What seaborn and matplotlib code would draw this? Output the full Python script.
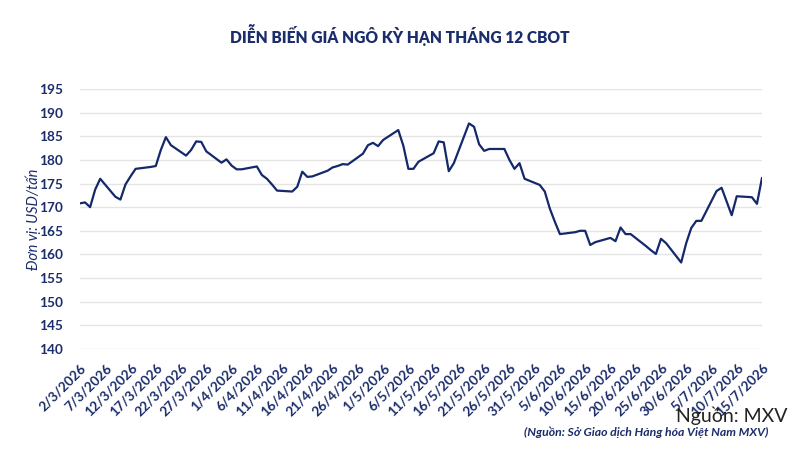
import pandas as pd
import numpy as np
import matplotlib
matplotlib.use('Agg')
import matplotlib.pyplot as plt
import seaborn as sns

# Du lieu doc tu bieu do (ngay giao dich, USD/tan)
dates = pd.bdate_range('2026-03-02', '2026-07-15')
prices = [
    170.8, 171.0, 170.0, 173.7, 176.0,
    172.2, 171.6, 174.8, 176.5, 178.1,
    178.5, 178.7, 182.1, 184.8, 183.1,
    180.9, 182.1, 183.9, 183.8, 181.8,
    179.4, 180.1, 178.8, 178.0, 178.0,
    178.6, 176.8, 176.0, 174.8, 173.5,
    173.3, 174.3, 177.5, 176.4, 176.5,
    177.7, 178.4, 178.7, 179.1, 179.0,
    181.3, 183.1, 183.6, 182.9, 184.2,
    186.3, 183.0, 178.1, 178.1, 179.6,
    181.4, 183.9, 183.7, 177.6, 179.3,
    187.7, 187.0, 183.3, 181.9, 182.3,
    182.3, 180.0, 178.1, 179.3, 176.0,
    174.7, 173.3, 169.7, 166.9, 164.3,
    164.7, 165.0, 165.0, 162.0, 162.6,
    163.5, 162.8, 165.7, 164.3, 164.3,
    161.8, 160.9, 160.1, 163.3, 162.4,
    158.3, 162.4, 165.6, 167.1, 167.1,
    173.4, 174.1, 171.2, 168.3, 172.3,
    172.1, 170.7, 176.2,
]
tick_dates = pd.date_range('2026-03-02', '2026-07-15', freq='5D')
tick_labels = [f"{d.day}/{d.month}/{d.year}" for d in tick_dates]
y_ticks = list(range(140, 200, 5))

title = "DIỄN BIẾN GIÁ NGÔ KỲ HẠN THÁNG 12 CBOT"
ylabel = "Đơn vị: USD/tấn"
source1 = "Nguồn: MXV"
source2 = "(Nguồn: Sở Giao dịch Hàng hóa Việt Nam MXV)"

df = pd.DataFrame({'date': dates, 'price': prices})

navy = '#1b2d6b'
sns.set_theme(style="white")
plt.rcParams['font.family'] = ['Lato', 'DejaVu Sans']

fig = plt.figure(figsize=(8, 4.5), dpi=100)
ax = fig.add_axes([0.1, 0.2244, 0.8525, 0.578])
sns.lineplot(data=df, x='date', y='price', ax=ax, color='#14286b', linewidth=1.6)

ax.set_ylim(140, 195)
ax.set_yticks(y_ticks)
ax.set_xlim(dates[0], dates[-1])
ax.set_xticks(tick_dates)
ax.set_xticklabels(tick_labels, rotation=45, ha='right', rotation_mode='anchor')
ax.grid(axis='y', color='#e4e4e4', linewidth=1)
ax.set_axisbelow(True)
for s in ax.spines.values():
    s.set_visible(False)
ax.tick_params(axis='both', length=0, colors=navy, labelsize=9.8)
ax.tick_params(axis='x', pad=9)
ax.tick_params(axis='y', pad=12)
for lab in ax.get_xticklabels() + ax.get_yticklabels():
    lab.set_fontweight('bold')
ax.set_xlabel('')
ax.set_ylabel(ylabel, color=navy, fontstyle='italic', fontsize=10.5, labelpad=-1)

fig.text(0.5, 0.922, title, ha='center', va='center', color=navy,
         fontsize=11.2, fontweight='heavy')
fig.text(0.984, 0.076, source1, ha='right', va='center', color='#222222', fontsize=14)
fig.text(0.96, 0.04, source2, ha='right', va='center', color=navy,
         fontsize=8.8, fontstyle='italic', fontweight='bold')

fig.savefig('out.png', dpi=100)
